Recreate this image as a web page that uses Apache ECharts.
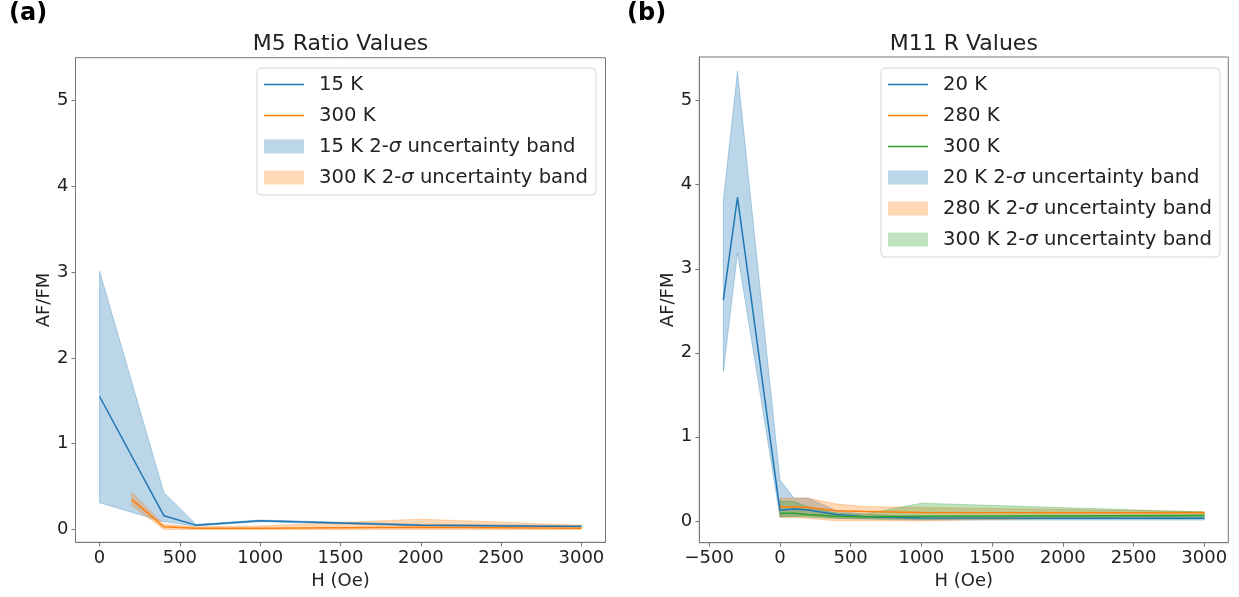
<!DOCTYPE html>
<html>
<head>
<meta charset="utf-8">
<script src="https://cdn.jsdelivr.net/npm/echarts@6/dist/echarts.min.js"></script>
<style>
  html, body { margin: 0; padding: 0; background: #fff; }
  #chart { width: 1239px; height: 597px; }
</style>
</head>
<body>
<div id="chart"></div>
<script>
const blue = '#1f77b4';
const orange = '#ff7f0e';
const green = '#2ca02c';
const font = 'DejaVu Sans';

// (a) M5 ratio values
const hA15 = [0, 400, 600, 1000, 2000, 3000];
const mA15 = [1.55, 0.16, 0.05, 0.10, 0.05, 0.035];
const loA15 = [0.31, 0.09, 0.04, 0.09, 0.04, 0.03];
const hiA15 = [3.01, 0.43, 0.06, 0.11, 0.06, 0.045];
const hA300 = [200, 400, 600, 1000, 2000, 3000];
const mA300 = [0.35, 0.03, 0.015, 0.015, 0.025, 0.015];
const loA300 = [0.28, 0.0, 0.0, 0.0, 0.0, 0.0];
const hiA300 = [0.43, 0.06, 0.03, 0.04, 0.12, 0.05];

// (b) M11 R values
const hB20 = [-400, -300, 0, 100, 200, 400, 600, 1000, 3000];
const mB20 = [2.63, 3.85, 0.125, 0.14, 0.13, 0.075, 0.05, 0.035, 0.03];
const loB20 = [1.78, 3.19, 0.05, 0.06, 0.06, 0.03, 0.02, 0.01, 0.01];
const hiB20 = [3.81, 5.35, 0.49, 0.27, 0.27, 0.12, 0.08, 0.05, 0.05];
const hB280 = [0, 100, 200, 400, 600, 1000, 3000];
const mB280 = [0.165, 0.165, 0.16, 0.12, 0.11, 0.10, 0.095];
const loB280 = [0.04, 0.04, 0.03, 0.0, 0.0, 0.0, 0.06];
const hiB280 = [0.27, 0.27, 0.27, 0.20, 0.17, 0.16, 0.11];
const hB300 = [0, 100, 200, 400, 600, 1000, 3000];
const mB300 = [0.09, 0.09, 0.075, 0.055, 0.05, 0.055, 0.065];
const loB300 = [0.05, 0.05, 0.045, 0.03, 0.03, 0.02, 0.04];
const hiB300 = [0.235, 0.23, 0.165, 0.09, 0.08, 0.21, 0.105];

// ticks
const xTicksA = [0, 500, 1000, 1500, 2000, 2500, 3000];
const xTicksB = [-500, 0, 500, 1000, 1500, 2000, 2500, 3000];
const yTicks = [0, 1, 2, 3, 4, 5];

// legend names (right panel names carry a "b:" tag, stripped for display)
const namesA = ['15 K', '300 K', '15 K 2-σ uncertainty band', '300 K 2-σ uncertainty band'];
const namesB = ['b:20 K', 'b:280 K', 'b:300 K', 'b:20 K 2-σ uncertainty band', 'b:280 K 2-σ uncertainty band', 'b:300 K 2-σ uncertainty band'];

function lineSeries(name, xs, ys, color, gi) {
  return {
    name: name, type: 'line', xAxisIndex: gi, yAxisIndex: gi,
    data: xs.map((x, i) => [x, ys[i]]),
    symbol: 'none', smooth: false,
    itemStyle: { color: color },
    lineStyle: { width: 1.5, color: color }
  };
}

function bandSeries(name, xs, lo, hi, color, gi) {
  return {
    name: name, type: 'custom', xAxisIndex: gi, yAxisIndex: gi,
    itemStyle: { color: color },
    data: xs.map((x, i) => [x, lo[i], hi[i]]),
    encode: { x: 0, y: [1, 2] },
    renderItem: function (params, api) {
      if (params.dataIndex !== 0) return;
      const top = xs.map((x, i) => api.coord([x, hi[i]]));
      const bot = xs.map((x, i) => api.coord([x, lo[i]])).reverse();
      return {
        type: 'polygon',
        shape: { points: top.concat(bot) },
        style: { fill: color, stroke: color, lineWidth: 1 }
      };
    }
  };
}

const axisColor = '#777';
const labelStyle = { fontSize: 18, color: '#222', fontFamily: font, margin: 7 };

function xAxisOf(gi, min, max, ticks) {
  return {
    gridIndex: gi, type: 'value', min: min, max: max,
    axisLine: { onZero: false, lineStyle: { color: axisColor } },
    axisTick: { customValues: ticks, length: 4, lineStyle: { color: axisColor } },
    axisLabel: Object.assign({ customValues: ticks, formatter: v => v < 0 ? '\u2212' + Math.abs(v) : String(v) }, labelStyle),
    splitLine: { show: false },
    name: 'H (Oe)', nameLocation: 'middle', nameGap: 30,
    nameTextStyle: { fontSize: 18, color: '#222', fontFamily: font }
  };
}

function yAxisOf(gi, min, max) {
  return {
    gridIndex: gi, type: 'value', min: min, max: max,
    axisLine: { show: true, onZero: false, lineStyle: { color: axisColor } },
    axisTick: { show: true, customValues: yTicks, length: 4, lineStyle: { color: axisColor } },
    axisLabel: Object.assign({ customValues: yTicks }, labelStyle),
    splitLine: { show: false },
    name: 'AF/FM', nameLocation: 'middle', nameGap: 21,
    nameTextStyle: { fontSize: 18, color: '#222', fontFamily: font }
  };
}

// thin bar used as legend handle for the plain lines
const lineIcon = 'path://M0,0h40v1.6h-40z';

function legendOf(names, left, top) {
  return {
    orient: 'vertical', left: left, top: top,
    selectedMode: false,
    itemWidth: 40, itemHeight: 14, itemGap: 10,
    padding: [6, 8, 7, 7],
    borderColor: '#d6d6d6', borderWidth: 1, borderRadius: 4,
    backgroundColor: 'rgba(255,255,255,0.8)',
    data: names.map(n => ({ name: n, icon: n.indexOf('band') >= 0 ? 'rect' : lineIcon })),
    formatter: n => n.replace(/^b:/, '').replace('σ', '{i|σ}'),
    textStyle: {
      fontSize: 19.6, color: '#222', fontFamily: font, lineHeight: 21, padding: [0, 0, 0, 10],
      rich: { i: { fontSize: 19.6, fontStyle: 'italic', fontFamily: font, color: '#222', lineHeight: 21 } }
    }
  };
}

const chart = echarts.init(document.getElementById('chart'), null, { renderer: 'canvas' });

const option = {
  animation: false,
  backgroundColor: '#fff',
  textStyle: { fontFamily: font },
  grid: [
    { left: 75.5, top: 57.7, width: 530, height: 484.6, show: true, borderColor: axisColor, borderWidth: 1, outerBoundsMode: 'none' },
    { left: 699.3, top: 57, width: 529, height: 485.7, show: true, borderColor: axisColor, borderWidth: 1, outerBoundsMode: 'none' }
  ],
  xAxis: [xAxisOf(0, -150, 3150, xTicksA), xAxisOf(1, -570, 3170, xTicksB)],
  yAxis: [yAxisOf(0, -0.15, 5.5), yAxisOf(1, -0.26, 5.52)],
  legend: [legendOf(namesA, 257, 68), legendOf(namesB, 881, 68)],
  graphic: [
    { type: 'text', left: 9, top: 2, style: { text: '(a)', font: 'bold 24px "DejaVu Sans"', fill: '#000' } },
    { type: 'text', left: 627, top: 2, style: { text: '(b)', font: 'bold 24px "DejaVu Sans"', fill: '#000' } },
    { type: 'text', x: 340.5, y: 44, style: { text: 'M5 Ratio Values', font: '22px "DejaVu Sans"', fill: '#222', align: 'center', verticalAlign: 'middle' } },
    { type: 'text', x: 963.8, y: 44, style: { text: 'M11 R Values', font: '22px "DejaVu Sans"', fill: '#222', align: 'center', verticalAlign: 'middle' } }
  ],
  series: [
    lineSeries(namesA[0], hA15, mA15, blue, 0),
    lineSeries(namesA[1], hA300, mA300, orange, 0),
    bandSeries(namesA[2], hA15, loA15, hiA15, 'rgba(31,119,180,0.3)', 0),
    bandSeries(namesA[3], hA300, loA300, hiA300, 'rgba(255,127,14,0.3)', 0),
    lineSeries(namesB[0], hB20, mB20, blue, 1),
    lineSeries(namesB[1], hB280, mB280, orange, 1),
    lineSeries(namesB[2], hB300, mB300, green, 1),
    bandSeries(namesB[3], hB20, loB20, hiB20, 'rgba(31,119,180,0.3)', 1),
    bandSeries(namesB[4], hB280, loB280, hiB280, 'rgba(255,127,14,0.3)', 1),
    bandSeries(namesB[5], hB300, loB300, hiB300, 'rgba(44,160,44,0.3)', 1)
  ]
};

chart.setOption(option);
</script>
</body>
</html>
